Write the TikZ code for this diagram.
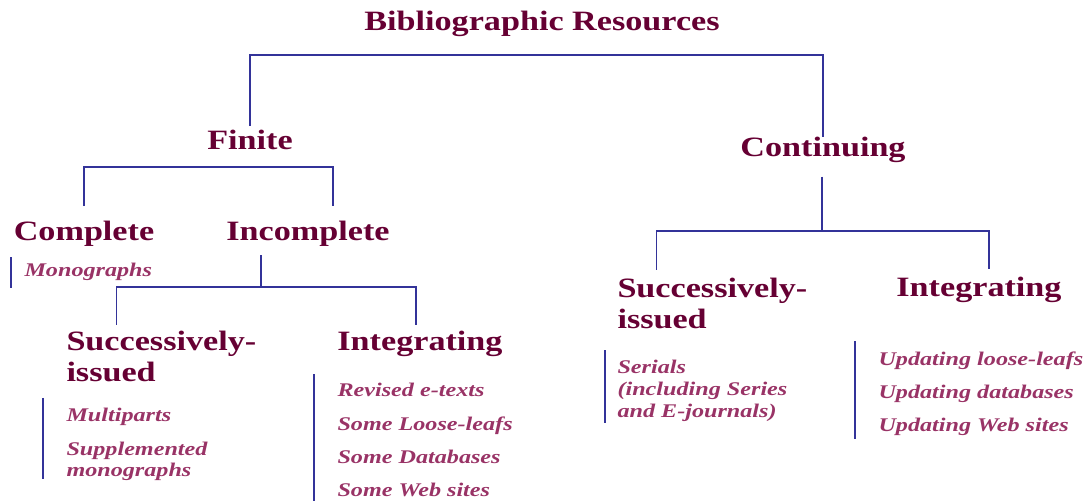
\documentclass[tikz,border=0pt]{standalone}
\usepackage{fontspec}
\setmainfont{Liberation Serif}
\newfontfamily\headfont[FakeStretch=1.22]{Liberation Serif}
\newfontfamily\itemfont[FakeStretch=1.25]{Liberation Serif}
\usepackage{tikz}
\usepackage{xcolor}
\definecolor{headred}{RGB}{102,0,51}
\definecolor{itempink}{RGB}{153,51,102}
\definecolor{linkblue}{RGB}{51,51,153}
\tikzset{every picture/.style={line width=0.75pt}}

\begin{document}
\begin{tikzpicture}[x=0.75pt,y=0.75pt,yscale=-1,xscale=1,
  head/.style={anchor=base,inner sep=3pt,text=headred,font=\headfont\bfseries\fontsize{21}{23.5}\selectfont},
  headleft/.style={head,anchor=base west,align=left},
  itemlist/.style={anchor=base west,inner sep=0pt,align=left,text=itempink,font=\itemfont\bfseries\itshape\fontsize{14.5}{16.5}\selectfont},
  link/.style={draw=linkblue,line width=1.1pt},
  bar/.style={draw=linkblue,line width=1.3pt}]
\useasboundingbox (0,0) rectangle (1090,502);

% Text Node
\node [head] (root) at (542,31) {Bibliographic Resources};
% Text Node
\node [head] (finite) at (250,150) {Finite};
% Text Node
\node [head] (continuing) at (823,157) {Continuing};
% Text Node
\node [head] (complete) at (84,241) {Complete};
% Text Node
\node [head] (incomplete) at (308,241) {Incomplete};
% Text Node (base = last line)
\node [headleft] (succA) at (62,382) {Successively-\\issued};
% Text Node
\node [head] (integA) at (420,351) {Integrating};
% Text Node (base = last line)
\node [headleft] (succB) at (613,329) {Successively-\\issued};
% Text Node
\node [head] (integB) at (979,297) {Integrating};

% Item lists, placed at the baseline of their last line
\node [itemlist] (mono) at (24,277) {Monographs};
\node [itemlist] (partsA) at (66,477) {Multiparts\\[8.5pt]Supplemented\\monographs};
\node [itemlist] (itemsA) at (337,497) {Revised e-texts\\[8.5pt]Some Loose-leafs\\[8.5pt]Some Databases\\[8.5pt]Some Web sites};
\node [itemlist] (serials) at (617,418) {Serials\\(including Series\\and E-journals)};
\node [itemlist] (itemsB) at (878,432) {Updating loose-leafs\\[8.5pt]Updating databases\\[8.5pt]Updating Web sites};

% Brackets
\coordinate (rootbar) at (536,55);
\draw [link] (finite.north) |- (rootbar) -| ([yshift=3pt]continuing.north);
\coordinate (finbar) at (208,167);
\draw [link] ([shift={(0,-11)}]complete.north) |- (finbar) -| ([shift={(25,-11)}]incomplete.north);
\coordinate (incbar) at (261,287);
\draw [link] ([shift={(-47,4)}]incomplete.south) -- (incbar);
\draw [link] ([shift={(-45,-2)}]succA.north) |- (incbar) -| ([shift={(-4,-2)}]integA.north);
\coordinate (contbar) at (822,231);
\draw [link] ([shift={(-1,9)}]continuing.south) -- (contbar);
\draw [link] ([shift={(-56,-4)}]succB.north) |- (contbar) -| ([shift={(10,-4)}]integB.north);

% Side bars
\draw [bar] ([shift={(-13,-6)}]mono.north west) -- ([shift={(-13,6)}]mono.south west);
\draw [bar] ([shift={(-23,-10)}]partsA.north west) -- ([shift={(-23,-3)}]partsA.south west);
\draw [bar] ([shift={(-23,-9)}]itemsA.north west) -- ([shift={(-23,3)}]itemsA.south west);
\draw [bar] ([shift={(-12,-10)}]serials.north west) -- ([shift={(-12,0)}]serials.south west);
\draw [bar] ([shift={(-23,-10)}]itemsB.north west) -- ([shift={(-23,2)}]itemsB.south west);

\end{tikzpicture}
\end{document}
